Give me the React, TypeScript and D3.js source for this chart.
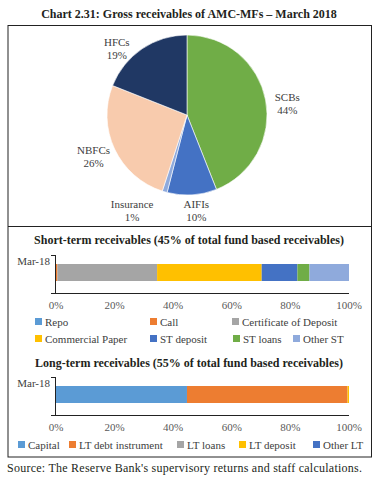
import React from "react";
import * as d3 from "d3";

const pieLabels = ["SCBs", "AIFIs", "Insurance", "NBFCs", "HFCs"];
const pieValues = [44, 10, 1, 26, 19];
const pieColors = ["#70AD47", "#4472C4", "#8FAADC", "#F8CBAD", "#203864"];

const stSeries = ["Repo", "Call", "Certificate of Deposit", "Commercial Paper", "ST deposit", "ST loans", "Other ST"];
const stValues = [0.0, 0.5, 34.0, 35.7, 12.2, 4.1, 13.5];
const stColors = ["#5B9BD5", "#ED7D31", "#A5A5A5", "#FFC000", "#4472C4", "#70AD47", "#8FAADC"];

const ltSeries = ["Capital", "LT debt instrument", "LT loans", "LT deposit", "Other LT"];
const ltValues = [44.7, 54.8, 0.0, 0.5, 0.0];
const ltColors = ["#5B9BD5", "#ED7D31", "#A5A5A5", "#FFC000", "#4472C4"];

const category = "Mar-18";
const xTicks = [0, 20, 40, 60, 80, 100];

const FONT = "'Liberation Serif', 'DejaVu Serif', serif";

function stack(values: number[]) {
  let acc = 0;
  return values.map((v) => {
    const s = acc;
    acc += v;
    return [s, acc];
  });
}

function BarPanel({ values, colors, top }: { values: number[]; colors: string[]; top: number }) {
  const x = d3.scaleLinear().domain([0, 100]).range([56, 349]);
  const axisTop = top;
  const axisBottom = top + 38;
  const barY = top + 9;
  const barH = 17;
  const segs = stack(values);
  return (
    <g>
      {segs.map(([a, b], i) =>
        b - a > 0 ? (
          <rect key={i} x={x(a)} y={barY} width={x(b) - x(a)} height={barH} fill={colors[i]} />
        ) : null
      )}
      <line x1={55.5} x2={55.5} y1={axisTop} y2={axisBottom} stroke="#222" strokeWidth={1} />
      <line x1={51} x2={55.5} y1={axisTop + 0.5} y2={axisTop + 0.5} stroke="#222" strokeWidth={1} />
      <line x1={51} x2={x(100)} y1={axisBottom + 0.5} y2={axisBottom + 0.5} stroke="#222" strokeWidth={1} />
      <text x={50} y={barY + 1} textAnchor="end" fontSize={11} fill="#404040" fontFamily={FONT}>
        {category}
      </text>
      {xTicks.map((t) => (
        <text key={t} x={x(t)} y={axisBottom + 16} textAnchor="middle" fontSize={11} fill="#595959" fontFamily={FONT}>
          {t}%
        </text>
      ))}
    </g>
  );
}

function LegendItem({ x, y, color, label }: { x: number; y: number; color: string; label: string }) {
  return (
    <g>
      <rect x={x} y={y - 4} width={7} height={7} fill={color} />
      <text x={x + 10} y={y + 3.5} fontSize={11} fill="#404040" fontFamily={FONT}>
        {label}
      </text>
    </g>
  );
}

export default function App() {
  const cx = 187;
  const cy = 115;
  const R = 80;
  const pie = d3.pie<number>().sort(null).value((d) => d);
  const arcs = pie(pieValues);
  const arc = d3.arc<d3.PieArcDatum<number>>().innerRadius(0).outerRadius(R);
  const labelArc = d3.arc<d3.PieArcDatum<number>>().innerRadius(100).outerRadius(100);
  const nudges: Record<string, [number, number]> = {
    SCBs: [2, 7],
    AIFIs: [3, -5],
    Insurance: [-27, -1],
    NBFCs: [-3, -2],
    HFCs: [-14, 16],
  };

  const stLegendPos: [number, number][] = [
    [35, 322], [150, 322], [232, 322],
    [35, 339], [150, 339], [233, 339], [293, 339],
  ];
  const ltLegendPos: [number, number][] = [
    [18, 445], [69, 445], [177, 445], [239, 445], [313, 445],
  ];

  return (
    <svg width={381} height={481} style={{ position: "absolute", left: 0, top: 0, background: "#fff" }}>
      <rect x={0} y={0} width={381} height={481} fill="#fff" />
      <text x={189} y={18} textAnchor="middle" fontSize={12} fontWeight="bold" fill="#231f20" fontFamily={FONT}>
        Chart 2.31: Gross receivables of AMC-MFs – March 2018
      </text>
      <rect x={8} y={25.5} width={363.5} height={431.5} fill="none" stroke="#222" strokeWidth={1} />
      <line x1={8} x2={371.5} y1={226.5} y2={226.5} stroke="#222" strokeWidth={1} />

      <g transform={`translate(${cx},${cy})`}>
        {arcs.map((a, i) => (
          <path key={i} d={arc(a) || ""} fill={pieColors[i]} stroke="#fff" strokeWidth={0.6} />
        ))}
        {arcs.map((a, i) => {
          const [lx, ly] = labelArc.centroid(a);
          const [nx, ny] = nudges[pieLabels[i]];
          return (
            <text key={i} x={lx + nx} y={ly + ny} textAnchor="middle" fontSize={11} fill="#404040" fontFamily={FONT}>
              <tspan x={lx + nx} dy={-2}>{pieLabels[i]}</tspan>
              <tspan x={lx + nx} dy={13}>{pieValues[i]}%</tspan>
            </text>
          );
        })}
      </g>

      <text x={189} y={244} textAnchor="middle" fontSize={12} fontWeight="bold" fill="#231f20" fontFamily={FONT}>
        Short-term receivables (45% of total fund based receivables)
      </text>
      <BarPanel values={stValues} colors={stColors} top={255} />
      {stSeries.map((s, i) => (
        <LegendItem key={s} x={stLegendPos[i][0]} y={stLegendPos[i][1]} color={stColors[i]} label={s} />
      ))}

      <text x={189} y={367} textAnchor="middle" fontSize={12} fontWeight="bold" fill="#231f20" fontFamily={FONT}>
        Long-term receivables (55% of total fund based receivables)
      </text>
      <BarPanel values={ltValues} colors={ltColors} top={377} />
      {ltSeries.map((s, i) => (
        <LegendItem key={s} x={ltLegendPos[i][0]} y={ltLegendPos[i][1]} color={ltColors[i]} label={s} />
      ))}

      <text x={7} y={472} fontSize={12} fill="#231f20" fontFamily={FONT} textLength={355} lengthAdjust="spacing">
        Source: The Reserve Bank's supervisory returns and staff calculations.
      </text>
    </svg>
  );
}
